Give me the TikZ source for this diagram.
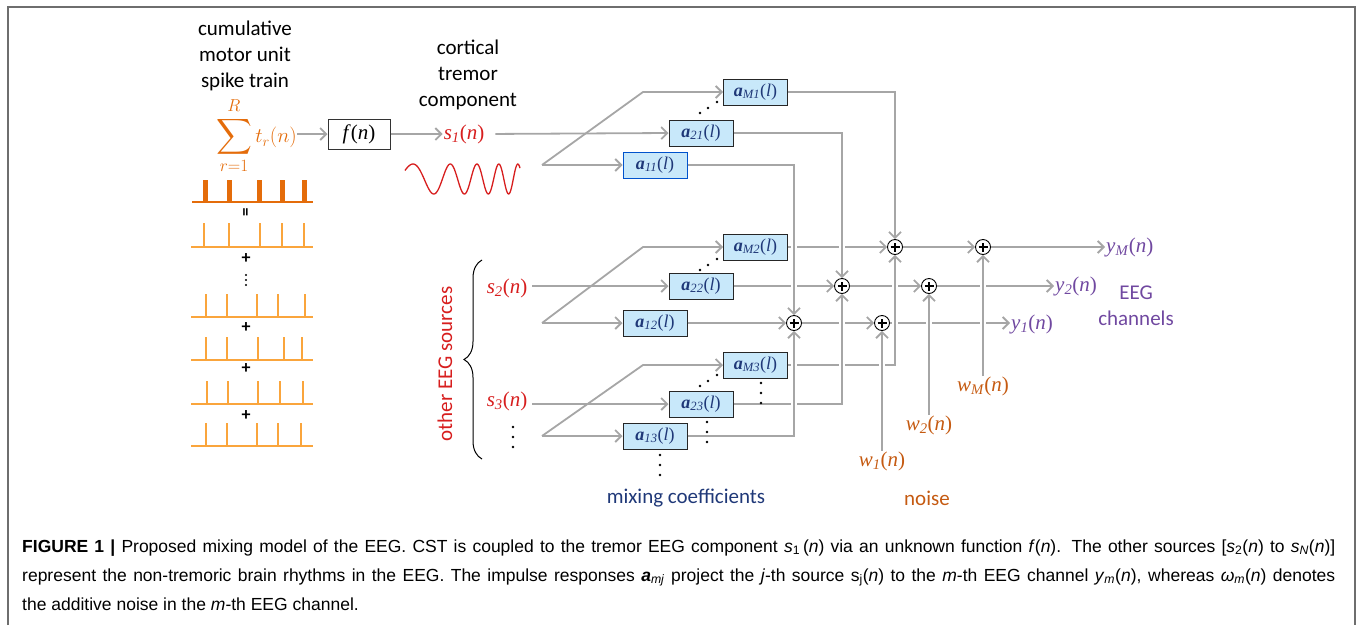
\documentclass[tikz,border=0pt]{standalone}
\usepackage{exscale}
\usepackage{fontspec}
\usepackage{tikz}
\usetikzlibrary{arrows.meta,decorations.pathreplacing}
\newfontfamily\calfont{Carlito}
\newfontfamily\lblfont{Liberation Serif}
\newfontfamily\capfont{Liberation Sans}
\definecolor{linegray}{RGB}{166,166,166}
\definecolor{framegray}{RGB}{110,110,110}
\definecolor{spikeorange}{RGB}{228,108,10}
\definecolor{thinorange}{RGB}{250,165,60}
\definecolor{srcred}{RGB}{215,30,30}
\definecolor{boxblue}{RGB}{200,232,250}
\definecolor{coefnavy}{RGB}{31,56,120}
\definecolor{noisebrown}{RGB}{197,90,17}
\definecolor{chanpurple}{RGB}{112,72,160}
\newcommand{\sig}[2]{\textit{#1}\textsubscript{\textit{#2}}(\textit{n})}
\newcommand{\coef}[1]{\textbf{\textit{a}}\textsubscript{\textit{#1}}(\textit{l})}

\begin{document}
\begin{tikzpicture}[x=1pt,y=-1pt,
  wire/.style={linegray,line width=1.8pt},
  arr/.style={wire,-{Straight Barb[length=6pt,width=12pt]}},
  hop/.style={preaction={draw=white,line width=6pt,-,shorten >=4pt}},
  coefbox/.style={draw=black!85,line width=1pt,fill=boxblue,minimum width=64pt,
    minimum height=26pt,inner sep=0pt,text=coefnavy,font=\lblfont\fontsize{18}{18}\selectfont},
  sumnode/.style={circle,draw=black,line width=0.9pt,fill=white,minimum size=15pt,inner sep=0pt,
    path picture={\draw[black,line width=1.1pt]
      ([xshift=-4.5pt]path picture bounding box.center) -- ([xshift=4.5pt]path picture bounding box.center)
      ([yshift=-4.5pt]path picture bounding box.center) -- ([yshift=4.5pt]path picture bounding box.center);}},
  sanslbl/.style={font=\calfont\fontsize{21}{26}\selectfont,align=center},
  mathlbl/.style={font=\lblfont\fontsize{21}{21}\selectfont,inner sep=1pt},
  spk/.style={thinorange,line width=1.6pt},
  plus/.style={font=\calfont\bfseries\fontsize{18}{18}\selectfont,inner sep=0pt}]
  \useasboundingbox (0,0) rectangle (1357,625);
  \draw[framegray,line width=2pt] (8,625) -- (8,7) -- (1355,7) -- (1355,625);

  % spike trains
  \node[sanslbl] (cmu) at (245,56) {cumulative\\motor unit\\spike train};
  \draw[spikeorange,line width=2pt] (192,202) -- (313,202);
  \foreach \x in {205,229,259,282,304}
    \fill[spikeorange] (\x-2.5,180) rectangle (\x+2.5,202);
  \node[rotate=90,font=\calfont\bfseries\fontsize{17}{17}\selectfont,inner sep=0pt] (eqs) at (247,212) {=};
  \foreach \yb/\yt/\xs in {247/223/{204,229,260,282,304},317/294/{206,227,257,278,305},
      360/337/{206,227,258,284,302},404/381/{207,228,258,280,303},446/423/{206,227,257,278,301}}{
    \draw[spk] (191,\yb) -- (313,\yb);
    \foreach \x in \xs \draw[spk] (\x,\yb) -- (\x,\yt);
  }
  \foreach \y in {259,328,369,416} \node[plus] at (246,\y) {+};
  \foreach \y in {275,280,285} \fill (246,\y) circle (1.2);

  \node[anchor=east,text=spikeorange,inner sep=0pt] (sumtr) at (297,136)
    {\fontsize{23}{23}\selectfont$\displaystyle\sum_{r=1}^{R}$\fontsize{21}{21}\selectfont$\,t_r(n)$};
  \node[draw=black!80,line width=1pt,minimum width=62pt,minimum height=30pt,inner sep=0pt,
    font=\lblfont\fontsize{21}{21}\selectfont] (fbox) at (359,134) {\textit{f}(\textit{n})};
  \node[sanslbl] (ctc) at (468,75) {cortical\\tremor\\component};
  \node[mathlbl,text=srcred] (s1) at (464,134) {\sig{s}{1}};
  \draw[arr] (sumtr.east |- fbox.west) -- (fbox.west);
  \draw[arr] (fbox.east) -- (s1.west);
  \draw[srcred,line width=1.3pt] plot[domain=0:115,samples=160,smooth]
    ({405+\x},{179-15*sin(deg(1.5708+6.2832*(0.02056*(\x-8)+0.000167*(\x-8)^2)))});

  % other sources
  \node[mathlbl,text=srcred] (s2) at (507,288) {\sig{s}{2}};
  \node[mathlbl,text=srcred] (s3) at (507,401) {\sig{s}{3}};
  \draw[decorate,decoration={brace,amplitude=18pt},line width=1pt] (482,459) -- (482,260);
  \node[rotate=90,font=\calfont\fontsize{21}{21}\selectfont,text=srcred] (oes) at (445,364) {other EEG sources};

  % mixing coefficients
  \node[coefbox] (aM1) at (755.5,92) {\coef{M1}};
  \node[coefbox] (a21) at (701,133) {\coef{21}};
  \node[coefbox,draw=blue!60!cyan!80!black] (a11) at (655,165) {\coef{11}};
  \node[coefbox] (aM2) at (755.5,247) {\coef{M2}};
  \node[coefbox] (a22) at (701,286) {\coef{22}};
  \node[coefbox] (a12) at (655,323) {\coef{12}};
  \node[coefbox] (aM3) at (755.5,365) {\coef{M3}};
  \node[coefbox] (a23) at (701,404) {\coef{23}};
  \node[coefbox] (a13) at (655,436) {\coef{13}};

  % summing points
  \node[sumnode] (S11) at (794,323) {};
  \node[sumnode] (S21) at (842,286) {};
  \node[sumnode] (SM1) at (895,247) {};
  \node[sumnode] (S1b) at (882,323) {};
  \node[sumnode] (S2b) at (929,286) {};
  \node[sumnode] (SMb) at (983,247) {};

  \node[mathlbl,text=chanpurple,anchor=west] (y1) at (1010,324) {\sig{y}{1}};
  \node[mathlbl,text=chanpurple,anchor=west] (y2) at (1054,286) {\sig{y}{2}};
  \node[mathlbl,text=chanpurple,anchor=west] (yM) at (1105,247) {\sig{y}{M}};
  \node[sanslbl,text=chanpurple] (eeg) at (1136,306) {EEG\\channels};
  \node[mathlbl,text=noisebrown,anchor=north] (w1) at (882,451) {\sig{w}{1}};
  \node[mathlbl,text=noisebrown,anchor=north] (w2) at (929,415) {\sig{w}{2}};
  \node[mathlbl,text=noisebrown,anchor=north] (wM) at (983,376) {\sig{w}{M}};
  \node[sanslbl,text=coefnavy] (mixc) at (686,498) {mixing coefficients};
  \node[sanslbl,text=noisebrown] (nse) at (927,498) {noise};

  % inputs
  \coordinate (br1) at (542,165); \coordinate (kn1) at (643,92);
  \coordinate (br2) at (542,323); \coordinate (kn2) at (643,247);
  \coordinate (br3) at (542,436); \coordinate (kn3) at (643,365);
  \draw[arr,shorten <=10pt] (s1.east) -- (a21.west);
  \draw[arr,shorten <=4pt] (s2.east |- a22.west) -- (a22.west);
  \draw[arr,shorten <=4pt] (s3.east |- a23.west) -- (a23.west);
  \foreach \i/\m/\one in {1/aM1/a11,2/aM2/a12,3/aM3/a13}{
    \draw[arr] (br\i) -- (\one.west);
    \draw[arr] (br\i) -- (kn\i) -- (\m.west);
  }

  % outputs to the channels
  \draw[arr] (aM2) -- (SM1);
  \draw[arr] (a22) -- (S21);
  \draw[arr] (a12) -- (S11);
  \draw[arr] (S11) -- (S1b);
  \draw[arr] (S21) -- (S2b);
  \draw[arr] (SM1) -- (SMb);
  \draw[arr] (S1b) -- (y1.west |- S1b);
  \draw[arr] (S2b) -- (y2.west);
  \draw[arr] (SMb) -- (yM.west);
  \draw[arr,hop] (aM3) -| (SM1);
  \draw[arr,hop] (a23) -| (S21);
  \draw[arr,hop] (a13) -| (S11);
  \draw[arr,hop] (aM1) -| (SM1);
  \draw[arr,hop] (a21) -| (S21);
  \draw[arr,hop] (a11) -| (S11);
  \draw[arr,hop] (w1.north) -- (S1b);
  \draw[arr,hop] (w2.north) -- (S2b);
  \draw[arr,hop] (wM.north) -- (SMb);

  % dots
  \foreach \dy in {0,157,273}
    \foreach \x/\y in {700/113,708/108,717/102} \fill (\x,\y+\dy) circle (1.3);
  \foreach \y in {383,393,403} \fill (761,\y) circle (1.3);
  \foreach \y in {422,432,442} \fill (707,\y) circle (1.3);
  \foreach \y in {455,465,475} \fill (660,\y) circle (1.3);
  \foreach \y in {427,437,447} \fill (513,\y) circle (1.3);

  % caption
  \node[anchor=base west,inner sep=0pt,font=\capfont\fontsize{17.5}{20}\selectfont] (cap1) at (22,552)
    {\hbox to 1313pt{\textbf{FIGURE 1 |} Proposed mixing model of the EEG. CST is coupled to the tremor EEG component
     \textit{s}\textsubscript{1}\,(\textit{n}) via an unknown function \textit{f}(\textit{n}). The other sources
     [\textit{s}\textsubscript{2}(\textit{n}) to \textit{s}\textsubscript{\textit{N}}(\textit{n})]}};
  \node[anchor=base west,inner sep=0pt,font=\capfont\fontsize{17.5}{20}\selectfont] (cap2) at (22,581)
    {\hbox to 1313pt{represent the non-tremoric brain rhythms in the EEG. The impulse responses
     \textbf{\textit{a}}\textsubscript{\textit{mj}} project the \textit{j}-th source s\textsubscript{j}(\textit{n})
     to the \textit{m}-th EEG channel \textit{y}\textsubscript{\textit{m}}(\textit{n}), whereas
     \textit{ω}\textsubscript{\textit{m}}(\textit{n}) denotes}};
  \node[anchor=base west,inner sep=0pt,font=\capfont\fontsize{17.5}{20}\selectfont] (cap3) at (22,610)
    {the additive noise in the \textit{m}-th EEG channel.};
\end{tikzpicture}
\end{document}
